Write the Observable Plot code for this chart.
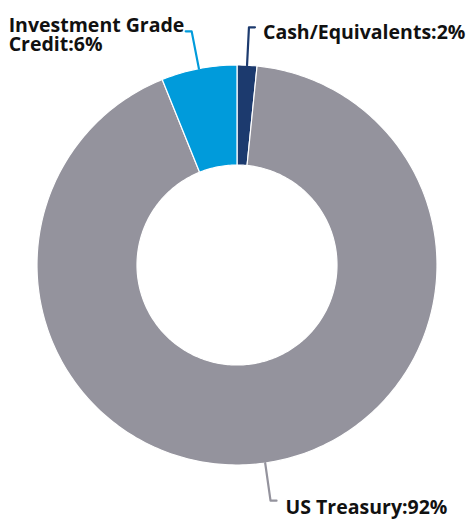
<!DOCTYPE html>
<html>
<head>
<meta charset="utf-8">
<script src="https://cdn.jsdelivr.net/npm/d3@7"></script>
<script src="https://cdn.jsdelivr.net/npm/@observablehq/plot@0.6"></script>
<style>
  html, body { margin: 0; padding: 0; background: #fff; }
  #chart svg { display: block; }
</style>
</head>
<body>
<div id="chart"></div>
<script>
// ---- data ----
const categories = ["Cash/Equivalents", "US Treasury", "Investment Grade Credit"];
const values = [1.6, 92.3, 6.1];
const labels = ["Cash/Equivalents:2%", "US Treasury:92%", "Investment Grade\nCredit:6%"];
const colors = ["#1c3a6e", "#94939d", "#009bdb"];

// ---- layout (not data) ----
const W = 471, H = 519;
const CX = 236.5, CY = 264.5, R = 200;  // pixel center & outer radius
const INNER = 0.5;                       // inner radius as fraction of outer
const LEADER_OUT = 1.19;                 // leader elbow radius
const ELBOW = 6;                         // px horizontal elbow
// text offsets from elbow end (px): [dx, dy]
const textOffsets = [[8, 5], [9, 7], [0, 4]];
const FS = 19.5;

const total = d3.sum(values);
let cum = 0;
const slices = categories.map((c, i) => {
  const a0 = cum / total * 2 * Math.PI;
  cum += values[i];
  const a1 = cum / total * 2 * Math.PI;
  return {name: c, a0, a1, mid: (a0 + a1) / 2, label: labels[i], i};
});

const pol = (a, r) => ({x: r * Math.sin(a), y: r * Math.cos(a)});

// arc polygons
const arcPts = [];
for (const s of slices) {
  const n = Math.max(8, Math.ceil((s.a1 - s.a0) / (Math.PI / 180)));
  const pts = [];
  for (let k = 0; k <= n; k++) pts.push(pol(s.a0 + (s.a1 - s.a0) * k / n, 1));
  for (let k = n; k >= 0; k--) pts.push(pol(s.a0 + (s.a1 - s.a0) * k / n, INNER));
  pts.push(pts[0]);
  for (const p of pts) arcPts.push({...p, name: s.name});
}

// leader lines and label positions
const leaderPts = [];
const textPts = [];
for (const s of slices) {
  const dir = Math.sin(s.mid) >= 0 ? 1 : -1;
  const p0 = pol(s.mid, 1);
  const p1 = pol(s.mid, LEADER_OUT);
  const p2 = {x: p1.x + dir * ELBOW / R, y: p1.y};
  for (const p of [p0, p1, p2]) leaderPts.push({...p, name: s.name});
  const [ox, oy] = textOffsets[s.i];
  textPts.push({
    x: p2.x + dir * ox / R,
    y: p2.y - oy / R,
    label: s.label,
    anchor: dir > 0 ? "start" : "end"
  });
}

const color = {domain: categories, range: colors};

const chart = Plot.plot({
  width: W,
  height: H,
  margin: 0,
  x: {domain: [-CX / R, (W - CX) / R], axis: null},
  y: {domain: [-(H - CY) / R, CY / R], axis: null},
  color: color,
  style: {fontFamily: "'Open Sans', sans-serif"},
  marks: [
    Plot.line(arcPts, {x: "x", y: "y", z: "name", fill: "name", stroke: "white", strokeWidth: 1.2, curve: "linear"}),
    Plot.line(leaderPts, {x: "x", y: "y", z: "name", stroke: "name", strokeWidth: 2.2, curve: "linear"}),
    Plot.text(textPts.filter(d => d.anchor === "start"), {x: "x", y: "y", text: "label", textAnchor: "start", fontSize: FS, fontWeight: "bold", fill: "#111", lineHeight: 1.0}),
    Plot.text(textPts.filter(d => d.anchor === "end"), {x: "x", y: "y", text: "label", textAnchor: "start", dx: -177, fontSize: FS, fontWeight: "bold", fill: "#111", lineHeight: 1.0})
  ]
});
document.getElementById("chart").appendChild(chart);
</script>
</body>
</html>
